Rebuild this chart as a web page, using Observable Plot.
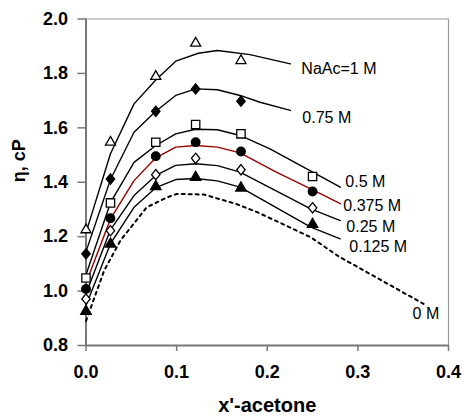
<!DOCTYPE html>
<html>
<head>
<meta charset="utf-8">
<script src="https://cdn.jsdelivr.net/npm/d3@7"></script>
<script src="https://cdn.jsdelivr.net/npm/@observablehq/plot@0.6"></script>
<style>
  html, body { margin: 0; padding: 0; background: #fff; }
  #chart svg { font-family: "Liberation Sans", Arial, sans-serif; }
</style>
</head>
<body>
<div id="chart"></div>
<script>
// ---- data ----
const seriesNames = ["1 M", "0.75 M", "0.5 M", "0.375 M", "0.25 M", "0.125 M", "0 M"];
const labelTexts  = ["NaAc=1 M", "0.75 M", "0.5 M", "0.375 M", "0.25 M", "0.125 M", "0 M"];

// measured points (x'-acetone)
const markerX = [0, 0.027, 0.077, 0.121, 0.171, 0.25];
const eta_1M    = [1.225, 1.547, 1.789, 1.911, 1.847];
const eta_075M  = [1.137, 1.412, 1.661, 1.743, 1.698];
const eta_05M   = [1.048, 1.324, 1.547, 1.612, 1.578, 1.421];
const eta_0375M = [1.008, 1.268, 1.496, 1.547, 1.513, 1.366];
const eta_025M  = [0.971, 1.222, 1.428, 1.488, 1.446, 1.306];
const eta_0125M = [0.926, 1.173, 1.384, 1.418, 1.379, 1.245];

// fitted curves
const fitX_1M    = [0, 0.027, 0.053, 0.077, 0.099, 0.124, 0.145, 0.181, 0.2255];
const fitY_1M    = [1.215, 1.505, 1.688, 1.776, 1.845, 1.874, 1.884, 1.869, 1.835];
const fitX_075M  = [0, 0.027, 0.053, 0.077, 0.099, 0.121, 0.145, 0.17, 0.192, 0.2255];
const fitY_075M  = [1.145, 1.41, 1.584, 1.661, 1.719, 1.743, 1.740, 1.719, 1.694, 1.664];
const fitX_05M   = [0, 0.027, 0.053, 0.077, 0.099, 0.121, 0.145, 0.17, 0.203, 0.2806];
const fitY_05M   = [1.06, 1.325, 1.473, 1.535, 1.578, 1.595, 1.593, 1.572, 1.523, 1.382];
const fitX_0375M = [0, 0.027, 0.053, 0.077, 0.099, 0.121, 0.145, 0.17, 0.21, 0.248, 0.2806];
const fitY_0375M = [1.03, 1.265, 1.406, 1.49, 1.529, 1.535, 1.529, 1.508, 1.437, 1.376, 1.321];
const fitX_025M  = [0, 0.027, 0.053, 0.077, 0.099, 0.121, 0.145, 0.17, 0.248, 0.2806];
const fitY_025M  = [0.99, 1.225, 1.351, 1.425, 1.462, 1.468, 1.461, 1.437, 1.302, 1.259];
const fitX_0125M = [0, 0.027, 0.053, 0.077, 0.099, 0.121, 0.145, 0.17, 0.248, 0.2806];
const fitY_0125M = [0.947, 1.174, 1.308, 1.38, 1.41, 1.414, 1.405, 1.382, 1.235, 1.192];
const fitX_0M    = [0, 0.02, 0.038, 0.067, 0.09, 0.1, 0.13, 0.166, 0.189, 0.248, 0.279, 0.3725];
const fitY_0M    = [0.89, 1.075, 1.186, 1.308, 1.345, 1.357, 1.355, 1.32, 1.29, 1.198, 1.127, 0.953];

const xTicks = [0, 0.1, 0.2, 0.3, 0.4];
const yTicks = [0.8, 1.0, 1.2, 1.4, 1.6, 1.8, 2.0];

// ---- build tables ----
const markerSets = [eta_1M, eta_075M, eta_05M, eta_0375M, eta_025M, eta_0125M];
const fitSets = [
  [fitX_1M, fitY_1M], [fitX_075M, fitY_075M], [fitX_05M, fitY_05M],
  [fitX_0375M, fitY_0375M], [fitX_025M, fitY_025M], [fitX_0125M, fitY_0125M], [fitX_0M, fitY_0M]
];

const tallDiamond = {
  draw(ctx, size) {
    const r = Math.sqrt(size) * 0.6;
    ctx.moveTo(0, -r * 1.12);
    ctx.lineTo(r * 0.92, 0);
    ctx.lineTo(0, r * 1.12);
    ctx.lineTo(-r * 0.92, 0);
    ctx.closePath();
  }
};

const markerStyle = [
  {symbol: "triangle2", fill: "white", r: 4.8},
  {symbol: tallDiamond, fill: "black", r: 4.3},
  {symbol: "square", fill: "white", r: 4.7},
  {symbol: "circle", fill: "black", r: 4.3},
  {symbol: tallDiamond, fill: "white", r: 4.3},
  {symbol: "triangle", fill: "black", r: 3.9}
];
const lineColor = ["black", "black", "black", "#990000", "black", "black", "black"];
const labelOffset = [[11, 5], [12, 7], [5, -5], [3, 2], [6, 6], [9, 8], [-11, 10]];

const marks = [];
// frame top/right
marks.push(Plot.ruleY([2.0], {stroke: "#999", strokeWidth: 1.2}));
marks.push(Plot.ruleX([0.4], {stroke: "#999", strokeWidth: 1.2}));

// axes
marks.push(Plot.axisY({ticks: yTicks, tickFormat: d3.format(".1f"), tickSize: 8, tickPadding: 10,
  fontSize: 18, fontWeight: "bold", stroke: "#777", strokeWidth: 1.5, label: null}));
marks.push(Plot.axisX({ticks: xTicks, tickFormat: d3.format(".1f"), tickSize: 6, tickPadding: 14,
  fontSize: 18, fontWeight: "bold", stroke: "#777", strokeWidth: 1.5, label: null}));
marks.push(Plot.ruleX([0], {stroke: "#777", strokeWidth: 2}));
marks.push(Plot.ruleY([0.8], {stroke: "#777", strokeWidth: 2}));

// fitted lines
fitSets.forEach(([xs, ys], i) => {
  const rows = xs.map((x, j) => ({x, y: ys[j]}));
  marks.push(Plot.line(rows, {x: "x", y: "y", stroke: lineColor[i],
    strokeWidth: i === 6 ? 2 : 1.4,
    strokeDasharray: i === 6 ? "3,4" : null, curve: "linear"}));
});

// markers
markerSets.forEach((ys, i) => {
  const rows = ys.map((y, j) => ({x: markerX[j], y}));
  const s = markerStyle[i];
  marks.push(Plot.dot(rows, {x: "x", y: "y", symbol: s.symbol, r: s.r, fill: s.fill,
    stroke: "black", strokeWidth: 1.3}));
});

// curve labels at the end of each fitted line
fitSets.forEach(([xs, ys], i) => {
  const n = xs.length - 1;
  marks.push(Plot.text([{x: xs[n], y: ys[n], t: labelTexts[i]}], {x: "x", y: "y", text: "t",
    textAnchor: "start", dx: labelOffset[i][0], dy: labelOffset[i][1],
    fontSize: 16, fill: "black"}));
});

// axis titles
marks.push(Plot.text(["x'-acetone"], {frameAnchor: "bottom", dy: 66, fontSize: 20,
  fontWeight: "bold", fill: "black"}));
marks.push(Plot.text(["η, cP"], {frameAnchor: "left", dx: -66.5, rotate: -90, fontSize: 18,
  fontWeight: "bold", fill: "black"}));

const chart = Plot.plot({
  width: 464,
  height: 418,
  marginLeft: 85.5,
  marginRight: 16,
  marginTop: 18.5,
  marginBottom: 73,
  x: {domain: [0, 0.4]},
  y: {domain: [0.8, 2.0]},
  style: {fontFamily: "Liberation Sans, Arial, sans-serif", color: "black", background: "white", overflow: "visible"},
  marks
});
document.getElementById("chart").appendChild(chart);
</script>
</body>
</html>
